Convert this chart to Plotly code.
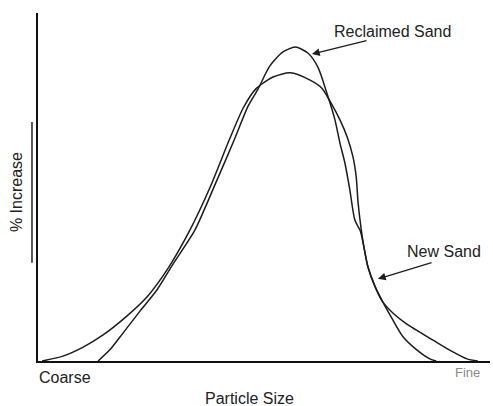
import plotly.graph_objects as go

# Particle size (arbitrary units, coarse -> fine) and % increase (arbitrary units)
new_sand_x = [0.9, 5.5, 10.0, 14.4, 19.2, 24.1, 28.8, 33.6, 38.1, 42.3, 45.4, 48.2,
              52.0, 55.8, 60.2, 62.8, 65.3, 66.8, 68.4, 69.7, 70.4, 70.8, 71.5,
              72.1, 73.0, 74.6, 76.3, 78.5, 81.6, 87.4, 91.8, 94.9, 97.3]
new_sand_y = [0.0, 1.4, 4.0, 7.5, 12.4, 18.4, 26.7, 37.6, 50.0, 63.5, 72.7, 78.2,
              81.6, 82.8, 80.7, 78.4, 73.0, 69.3, 64.4, 58.6, 52.9, 45.7, 37.9,
              32.8, 27.0, 21.3, 16.9, 13.8, 10.6, 6.0, 2.6, 0.6, 0.0]

reclaimed_x = [13.3, 15.9, 18.8, 22.6, 26.3, 29.9, 34.7, 39.4, 43.4, 46.5, 48.7,
               51.3, 54.2, 56.9, 59.7, 61.9, 63.9, 65.7, 66.8, 67.9, 69.0, 70.1,
               71.3, 72.1, 73.0, 74.6, 76.3, 78.5, 80.8, 83.8, 86.7, 88.1]
reclaimed_y = [0.0, 3.2, 8.0, 14.4, 20.4, 27.9, 37.6, 51.4, 63.5, 73.3, 78.2,
               84.8, 88.8, 90.2, 88.5, 84.5, 77.0, 69.3, 62.6, 56.9, 49.1, 40.5,
               37.4, 32.8, 27.0, 21.3, 16.9, 11.8, 6.9, 3.2, 0.6, 0.0]

line_style = dict(color="#1c1c1c", width=1.5, shape="spline", smoothing=0.7)

fig = go.Figure()
fig.add_trace(go.Scatter(x=new_sand_x, y=new_sand_y, mode="lines", name="New Sand",
                         line=line_style, hoverinfo="skip"))
fig.add_trace(go.Scatter(x=reclaimed_x, y=reclaimed_y, mode="lines", name="Reclaimed Sand",
                         line=line_style, hoverinfo="skip"))

font = dict(family="Liberation Sans, Arial, sans-serif", size=16, color="#222222")

def label(x, y, text, **kw):
    d = dict(x=x, y=y, xref="paper", yref="paper", text=text, showarrow=False,
             xanchor="center", yanchor="middle", font=font)
    d.update(kw)
    return d

annotations = [
    label(0.785, 0.948, "Reclaimed Sand"),
    label(0.898, 0.316, "New Sand"),
    label(-0.002, -0.046, "Coarse", xanchor="left"),
    label(0.951, -0.034, "Fine", font=dict(family=font["family"], size=13, color="#8a8a8a")),
    label(0.469, -0.109, "Particle Size"),
    label(-0.046, 0.486, "% Increase", textangle=-90),
    # arrows pointing to the curves
    dict(x=60.6, y=88.2, ax=73.0, ay=92.2, xref="x", yref="y", axref="x", ayref="y",
         text="", showarrow=True, arrowhead=2, arrowsize=1.2, arrowwidth=1.3,
         arrowcolor="#1c1c1c", standoff=0, startstandoff=0),
    dict(x=75.2, y=23.6, ax=87.4, ay=28.4, xref="x", yref="y", axref="x", ayref="y",
         text="", showarrow=True, arrowhead=2, arrowsize=1.2, arrowwidth=1.3,
         arrowcolor="#1c1c1c", standoff=0, startstandoff=0),
]

shapes = [
    dict(type="line", xref="paper", yref="paper", x0=-0.0133, x1=-0.0133,
         y0=0.282, y1=0.687, line=dict(color="#222222", width=1.5)),
]

fig.update_layout(
    width=493, height=406,
    margin=dict(l=38, r=3, t=13, b=45),
    paper_bgcolor="white", plot_bgcolor="white",
    showlegend=False,
    annotations=annotations,
    shapes=shapes,
    xaxis=dict(range=[0, 100], showgrid=False, zeroline=False, showticklabels=False,
               ticks="", showline=True, linecolor="#111111", linewidth=2, fixedrange=True),
    yaxis=dict(range=[0, 100], showgrid=False, zeroline=False, showticklabels=False,
               ticks="", showline=True, linecolor="#111111", linewidth=2, fixedrange=True),
)

fig.write_html("out.html", config={"displayModeBar": False})

# remove the browser's default page margin so the figure sits at the window origin
with open("out.html", encoding="utf-8") as f:
    html = f.read()
html = html.replace("<head>", "<head><style>html,body{margin:0;padding:0;overflow:hidden;}</style>", 1)
with open("out.html", "w", encoding="utf-8") as f:
    f.write(html)
